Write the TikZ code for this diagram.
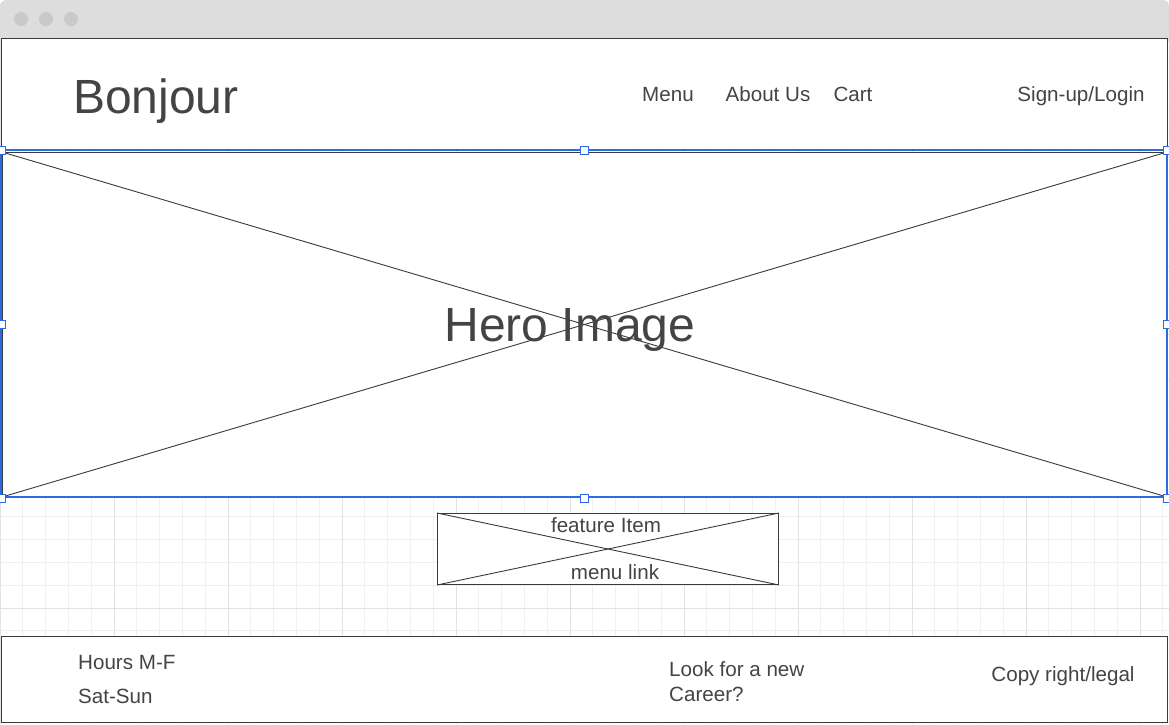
\documentclass[tikz,border=0pt]{standalone}
\usepackage{fontspec}
\setmainfont{Liberation Sans}
\definecolor{chrome}{HTML}{DDDDDD}
\definecolor{dot}{HTML}{C9C9C9}
\definecolor{ink}{HTML}{444444}
\definecolor{edge}{HTML}{3A3A3A}
\definecolor{sel}{HTML}{2F6BE0}
\definecolor{gridminor}{HTML}{F0F0F0}
\definecolor{gridmajor}{HTML}{E2E2E2}
\tikzset{
  box/.style={draw=edge, line width=1pt, fill=white},
  cross/.style={draw=edge, line width=0.9pt},
  label/.style={text=ink, inner sep=0pt, font=\fontsize{20.6}{24}\selectfont},
  biglabel/.style={text=ink, inner sep=0pt, font=\fontsize{48}{56}\selectfont},
  handle/.style={draw=sel, fill=white, line width=1pt, minimum size=8pt, inner sep=0pt, rectangle},
}
\begin{document}
\begin{tikzpicture}[x=1pt, y=-1pt]
\useasboundingbox (0,0) rectangle (1169,724);
\fill[white] (0,0) rectangle (1169,724);
% window chrome
\fill[chrome, rounded corners=6pt] (0,0) rectangle (1169,45);
\fill[chrome] (0,20) rectangle (1169,37);
\foreach \cx/\nm in {21/d1,46/d2,71/d3}
  \node[circle, fill=dot, minimum size=14pt, inner sep=0pt] (\nm) at (\cx,19) {};
% canvas grid
\begin{scope}
  \clip (0,38) rectangle (1169,724);
  \foreach \i in {0,...,51} {
    \pgfmathsetmacro\gx{\i*22.8}
    \draw[gridminor, line width=1pt] (\gx,38) -- (\gx,724);
  }
  \foreach \i in {0,...,30} {
    \pgfmathsetmacro\gy{38+\i*22.8}
    \draw[gridminor, line width=1pt] (0,\gy) -- (1169,\gy);
  }
  \foreach \i in {0,...,10} {
    \pgfmathsetmacro\gx{\i*114}
    \draw[gridmajor, line width=1pt] (\gx,38) -- (\gx,724);
  }
  \foreach \i in {0,...,6} {
    \pgfmathsetmacro\gy{38+\i*114}
    \draw[gridmajor, line width=1pt] (0,\gy) -- (1169,\gy);
  }
\end{scope}
% header bar
\draw[box] (1,38) rectangle (1167,150);
\node[biglabel, anchor=base west] (brand) at (73,113) {Bonjour};
\node[label, anchor=base] (nav1) at (668,101) {Menu};
\node[label, anchor=base] (nav2) at (768,101) {About Us};
\node[label, anchor=base] (nav3) at (853,101) {Cart};
\node[label, anchor=base] (nav4) at (1081,101) {Sign-up/Login};
% hero image placeholder
\node[box, minimum width=1164pt, minimum height=344pt, inner sep=0pt, anchor=north west] (hero) at (2,152) {};
\draw[cross] (hero.north west) -- (hero.south east);
\draw[cross] (hero.south west) -- (hero.north east);
\node[biglabel, anchor=base] (herotxt) at (570,341) {Hero Image};
% selection outline with handles
\draw[sel, line width=1.2pt] (1,150) rectangle (1167,497);
\foreach \hx/\hy/\nm in {1/150/h1,584/150/h2,1167/150/h3,1/324/h4,1167/324/h5,1/498/h6,584/498/h7,1167/498/h8}
  \node[handle] (\nm) at (\hx,\hy) {};
% feature item placeholder
\node[box, minimum width=341pt, minimum height=71pt, inner sep=0pt, anchor=north west] (feat) at (437,513) {};
\draw[cross] (feat.north west) -- (feat.south east);
\draw[cross] (feat.south west) -- (feat.north east);
\node[label, anchor=base] (feat1) at (606,532) {feature Item};
\node[label, anchor=base] (feat2) at (615,579) {menu link};
% footer
\draw[box] (1,636) rectangle (1167,722);
\node[label, anchor=base west] (hours1) at (78,669) {Hours M-F};
\node[label, anchor=base west] (hours2) at (78,703) {Sat-Sun};
\node[label, anchor=base west] (career1) at (669,676) {Look for a new};
\node[label, anchor=base west] (career2) at (669,701) {Career?};
\node[label, anchor=base] (legal) at (1063,681) {Copy right/legal};
\end{tikzpicture}
\end{document}
